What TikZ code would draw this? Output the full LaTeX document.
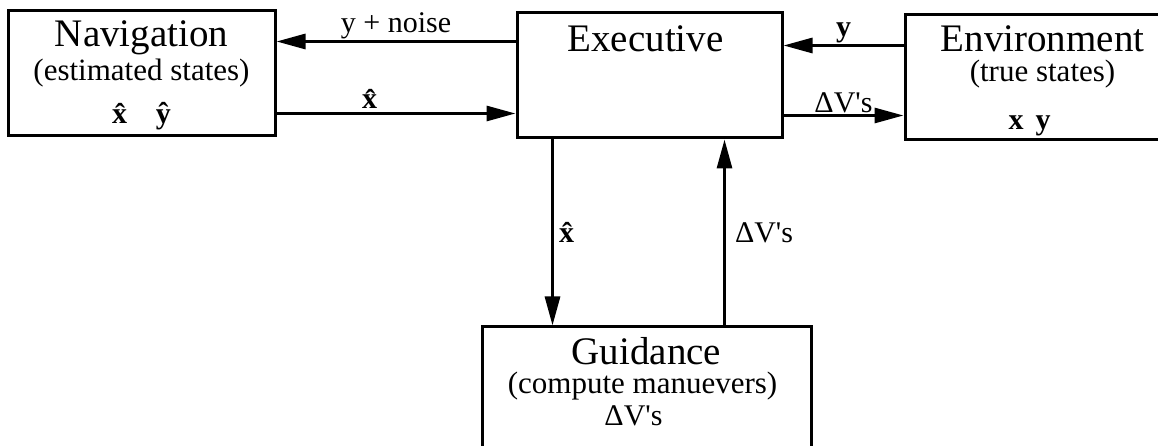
\documentclass[tikz,border=0pt]{standalone}
\usepackage{fontspec}
\setmainfont{Liberation Serif}
\usetikzlibrary{arrows.meta}
\newcommand{\dvees}{ΔV\textquotesingle s}

\begin{document}
\begin{tikzpicture}[x=1pt,y=1pt,
  blockbox/.style={draw, line width=3pt, inner sep=0pt},
  flow/.style={line width=3pt, -{Triangle[length=29pt,width=15pt]}},
  titletext/.style={anchor=base, font=\fontsize{39}{42}\selectfont},
  subtext/.style={anchor=base, font=\fontsize{31}{34}\selectfont},
  sigtext/.style={font=\fontsize{30}{32}\selectfont, inner sep=3pt}]
\useasboundingbox (0,0) rectangle (1158,446);
\clip (0,0) rectangle (1158,446);
\node[blockbox, minimum width=267pt, minimum height=125pt] (nav) at (141.5,372.5) {};
\node[blockbox, minimum width=265pt, minimum height=125pt] (exec) at (649.5,370.5) {};
\node[blockbox, minimum width=275pt, minimum height=125pt] (env) at (1042.5,368.5) {};
\node[blockbox, minimum width=329pt, minimum height=153pt] (guid) at (646.5,42.5) {};
\node[titletext] (navtitle) at ([yshift=-37pt]nav.north) {Navigation};
\node[subtext] (navsub) at ([yshift=-71pt]nav.north) {(estimated states)};
\node[sigtext, anchor=base] (navvars) at ([yshift=-114pt]nav.north) {\textbf{\^x}\hspace{24pt}\textbf{\^y}};
\node[titletext] (exectitle) at ([xshift=-4pt,yshift=-40pt]exec.north) {Executive};
\node[titletext] (envtitle) at ([yshift=-38pt]env.north) {Environment};
\node[subtext] (envsub) at ([yshift=-68pt]env.north) {(true states)};
\node[sigtext, anchor=base] (envvars) at ([xshift=-13pt,yshift=-116pt]env.north) {\textbf{x}\hspace{12pt}\textbf{y}};
\node[titletext] (guidtitle) at ([yshift=-39pt]guid.north) {Guidance};
\node[subtext] (guidsub) at ([xshift=-4pt,yshift=-68pt]guid.north) {(compute manuevers)};
\node[sigtext, anchor=base] (guidvars) at ([xshift=-13pt,yshift=-100pt]guid.north) {\dvees};
\coordinate (noisein) at ([yshift=-30pt]exec.north west);
\coordinate (estout) at ([yshift=-102pt]exec.north west);
\coordinate (yin) at ([yshift=-32pt]env.north west);
\coordinate (dvout) at ([yshift=-104pt]exec.north east);
\coordinate (estdown) at ([xshift=37pt]exec.south west);
\coordinate (dvup) at ([xshift=209pt]exec.south west);
\draw[flow] (noisein) -- node[sigtext, above, inner sep=1pt] {y + noise} (noisein -| nav.east);
\draw[flow] (estout -| nav.east) -- node[sigtext, above, pos=0.4] {\textbf{\^x}} (estout);
\draw[flow] (yin) -- node[sigtext, above, inner sep=1pt] {\textbf{y}} (yin -| exec.east);
\draw[flow] (dvout) -- node[sigtext, above, inner sep=1pt] {\dvees} (dvout -| env.west);
\draw[flow] (estdown) -- node[sigtext, right, inner sep=5pt] {\textbf{\^x}} (estdown |- guid.north);
\draw[flow] (dvup |- guid.north) -- node[sigtext, right, inner sep=9pt] {\dvees} (dvup);
\end{tikzpicture}
\end{document}
